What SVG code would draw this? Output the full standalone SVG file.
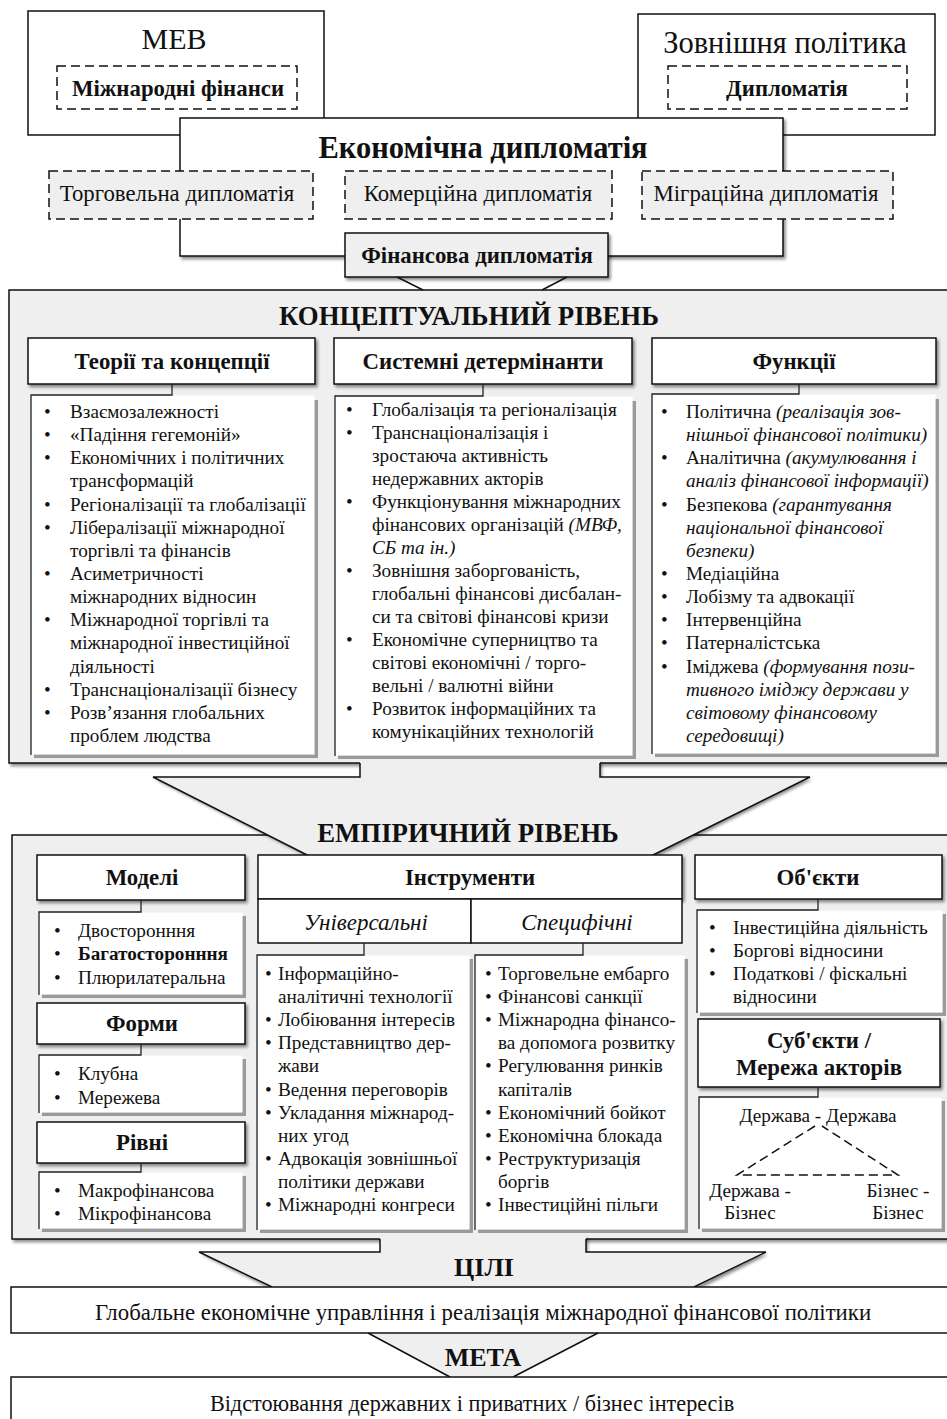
<svg xmlns="http://www.w3.org/2000/svg" width="947" height="1419" viewBox="0 0 947 1419">
<defs>
<filter id="sh" x="-10%" y="-10%" width="125%" height="130%"><feDropShadow dx="2" dy="2.5" stdDeviation="1.6" flood-color="#000" flood-opacity="0.45"/></filter>
<style>
text{font-family:"Liberation Serif","Times New Roman",serif;fill:#111}
.li{font-size:19.2px}
.b{font-weight:bold}
.i{font-style:italic}
.c{text-anchor:middle}
.h{font-size:22.8px;font-weight:bold;text-anchor:middle}
.box{fill:#fff;stroke:#111;stroke-width:1.5}
.gbox{fill:#efefef;stroke:#111;stroke-width:1.5}
.dash{stroke-dasharray:9 5}
.lst{fill:#fff}
.lsh{fill:#9a9a9a}
.conn{fill:none;stroke:#222;stroke-width:1.3}
.arr{fill:#efefef;stroke:none}
.arrs{fill:none;stroke:#111;stroke-width:1.5}
</style>
</defs>
<rect width="947" height="1419" fill="#fff"/>

<!-- Top -->
<g id="mev">
<rect class="box" x="28" y="11" width="296" height="124"/>
<text x="174" y="49" class="c" font-size="30">МЕВ</text>
<rect class="box dash" x="57" y="66" width="240" height="43"/>
<text x="178" y="96" class="c b" font-size="22.8">Міжнародні фінанси</text>
</g>
<g id="foreign">
<rect class="box" x="638" y="14" width="297" height="121"/>
<text x="785" y="53" class="c" font-size="30.5">Зовнішня політика</text>
<rect class="box dash" x="668" y="66" width="239" height="43"/>
<text x="787" y="96" class="c b" font-size="22.8">Дипломатія</text>
</g>
<g id="econ">
<rect class="box" x="180" y="118" width="603" height="138" filter="url(#sh)"/>
<text x="483" y="158" class="c b" font-size="30.5">Економічна дипломатія</text>
</g>
<g id="trade">
<rect class="gbox dash" x="49" y="171" width="264" height="48"/>
<text x="177" y="201" class="c" font-size="22.8">Торговельна дипломатія</text>
</g>
<g id="comm">
<rect class="gbox dash" x="345" y="171" width="267" height="48"/>
<text x="478" y="201" class="c" font-size="22.8">Комерційна дипломатія</text>
</g>
<g id="migr">
<rect class="gbox dash" x="642" y="171" width="251" height="48"/>
<text x="766" y="201" class="c" font-size="22.8">Міграційна дипломатія</text>
</g>

<!-- Conceptual level -->
<g id="conceptual">
<rect class="gbox" x="9" y="290" width="950" height="473" filter="url(#sh)"/>
<text x="469" y="325" class="c b" font-size="26.8">КОНЦЕПТУАЛЬНИЙ РІВЕНЬ</text>
</g>

<g id="fin">
<rect class="gbox" x="345" y="233" width="263" height="44" filter="url(#sh)"/>
<text x="477" y="263" class="c b" font-size="22.8">Фінансова дипломатія</text>
</g>

<!-- Empirical level -->
<g id="empirical">
<rect class="gbox" x="12" y="835" width="950" height="404" filter="url(#sh)"/>
</g>

<g id="connectors">
<line class="arrs" x1="397" y1="277" x2="423" y2="290"/>
<line class="arrs" x1="567" y1="277" x2="542" y2="290"/>
<path class="arr" d="M360,761 V777 H153 L311,857 H649 L810,777 H600 V761 Z" filter="url(#sh)"/>
<path class="arr" d="M361,760 H599 V778 H361 Z"/>
<path class="arrs" d="M360,763 V777 H153 L311,857 M649,857 L810,777 H600 V763"/>
</g>
<text x="468" y="842" class="c b" font-size="26.8">ЕМПІРИЧНИЙ РІВЕНЬ</text>

<!-- Conceptual columns -->
<g id="theories">
<rect class="box" x="28" y="338" width="287" height="46" filter="url(#sh)"/>
<text x="172" y="369" class="h">Теорії та концепції</text>
</g>
<g id="theories-list" class="li">
<rect class="lsh" x="34" y="400" width="284" height="358"/>
<rect class="lst" x="31.6" y="395.6" width="283" height="359"/>
<path class="conn" d="M172,384 V395 H31 V755"/>
<text x="44" y="418">•</text><text x="70" y="418">Взаємозалежності</text>
<text x="44" y="441">•</text><text x="70" y="441">«Падіння гегемоній»</text>
<text x="44" y="464">•</text><text x="70" y="464">Економічних і політичних</text>
<text x="70" y="487">трансформацій</text>
<text x="44" y="511">•</text><text x="70" y="511">Регіоналізації та глобалізації</text>
<text x="44" y="534">•</text><text x="70" y="534">Лібералізації міжнародної</text>
<text x="70" y="557">торгівлі та фінансів</text>
<text x="44" y="580">•</text><text x="70" y="580">Асиметричності</text>
<text x="70" y="603">міжнародних відносин</text>
<text x="44" y="626">•</text><text x="70" y="626">Міжнародної торгівлі та</text>
<text x="70" y="649">міжнародної інвестиційної</text>
<text x="70" y="673">діяльності</text>
<text x="44" y="696">•</text><text x="70" y="696">Транснаціоналізації бізнесу</text>
<text x="44" y="719">•</text><text x="70" y="719">Розв’язання глобальних</text>
<text x="70" y="742">проблем людства</text>
</g>

<g id="determinants">
<rect class="box" x="334" y="338" width="298" height="46" filter="url(#sh)"/>
<text x="483" y="369" class="h">Системні детермінанти</text>
</g>
<g id="determinants-list" class="li">
<rect class="lsh" x="338" y="401" width="298" height="358"/>
<rect class="lst" x="335.6" y="396.6" width="297" height="359"/>
<path class="conn" d="M483,384 V396 H335 V756"/>
<text x="346" y="416">•</text><text x="372" y="416">Глобалізація та регіоналізація</text>
<text x="346" y="439">•</text><text x="372" y="439">Транснаціоналізація і</text>
<text x="372" y="462">зростаюча активність</text>
<text x="372" y="485">недержавних акторів</text>
<text x="346" y="508">•</text><text x="372" y="508">Функціонування міжнародних</text>
<text x="372" y="531">фінансових організацій <tspan class="i">(МВФ,</tspan></text>
<text x="372" y="554" class="i">СБ та ін.)</text>
<text x="346" y="577">•</text><text x="372" y="577">Зовнішня заборгованість,</text>
<text x="372" y="600">глобальні фінансові дисбалан-</text>
<text x="372" y="623">си та світові фінансові кризи</text>
<text x="346" y="646">•</text><text x="372" y="646">Економічне суперництво та</text>
<text x="372" y="669">світові економічні / торго-</text>
<text x="372" y="692">вельні / валютні війни</text>
<text x="346" y="715">•</text><text x="372" y="715">Розвиток інформаційних та</text>
<text x="372" y="738">комунікаційних технологій</text>
</g>

<g id="functions">
<rect class="box" x="652" y="338" width="284" height="46" filter="url(#sh)"/>
<text x="794" y="369" class="h">Функції</text>
</g>
<g id="functions-list" class="li">
<rect class="lsh" x="655" y="399" width="284" height="358"/>
<rect class="lst" x="652.6" y="394.6" width="283" height="359"/>
<path class="conn" d="M799,384 V394 H652 V754"/>
<text x="661" y="418">•</text><text x="686" y="418">Політична <tspan class="i">(реалізація зов-</tspan></text>
<text x="686" y="441" class="i">нішньої фінансової політики)</text>
<text x="661" y="464">•</text><text x="686" y="464">Аналітична <tspan class="i">(акумулювання і</tspan></text>
<text x="686" y="487" class="i">аналіз фінансової інформації)</text>
<text x="661" y="511">•</text><text x="686" y="511">Безпекова <tspan class="i">(гарантування</tspan></text>
<text x="686" y="534" class="i">національної фінансової</text>
<text x="686" y="557" class="i">безпеки)</text>
<text x="661" y="580">•</text><text x="686" y="580">Медіаційна</text>
<text x="661" y="603">•</text><text x="686" y="603">Лобізму та адвокації</text>
<text x="661" y="626">•</text><text x="686" y="626">Інтервенційна</text>
<text x="661" y="649">•</text><text x="686" y="649">Патерналістська</text>
<text x="661" y="673">•</text><text x="686" y="673">Іміджева <tspan class="i">(формування пози-</tspan></text>
<text x="686" y="696" class="i">тивного іміджу держави у</text>
<text x="686" y="719" class="i">світовому фінансовому</text>
<text x="686" y="742" class="i">середовищі)</text>
</g>

<!-- Empirical: models, forms, levels -->
<g id="models">
<rect class="box" x="37" y="855" width="208" height="45" filter="url(#sh)"/>
<text x="142" y="885" class="h">Моделі</text>
</g>
<g id="models-list" class="li">
<rect class="lsh" x="42" y="916" width="204" height="82"/>
<rect class="lst" x="39.6" y="912.6" width="203" height="82"/>
<path class="conn" d="M141,900 V912 H39 V995"/>
<text x="54" y="937">•</text><text x="78" y="937">Двосторонння</text>
<text x="54" y="960">•</text><text x="78" y="960" class="b">Багатосторонння</text>
<text x="54" y="984">•</text><text x="78" y="984">Плюрилатеральна</text>
</g>
<g id="forms">
<rect class="box" x="37" y="1003" width="208" height="41" filter="url(#sh)"/>
<text x="142" y="1031" class="h">Форми</text>
</g>
<g id="forms-list" class="li">
<rect class="lsh" x="42" y="1059" width="204" height="57"/>
<rect class="lst" x="39.6" y="1055.6" width="203" height="57"/>
<path class="conn" d="M141,1044 V1055 H39 V1113"/>
<text x="54" y="1080">•</text><text x="78" y="1080">Клубна</text>
<text x="54" y="1104">•</text><text x="78" y="1104">Мережева</text>
</g>
<g id="levels">
<rect class="box" x="37" y="1122" width="208" height="41" filter="url(#sh)"/>
<text x="142" y="1150" class="h">Рівні</text>
</g>
<g id="levels-list" class="li">
<rect class="lsh" x="42" y="1176" width="204" height="56"/>
<rect class="lst" x="39.6" y="1172.6" width="203" height="56"/>
<path class="conn" d="M141,1163 V1172 H39 V1229"/>
<text x="54" y="1197">•</text><text x="78" y="1197">Макрофінансова</text>
<text x="54" y="1220">•</text><text x="78" y="1220">Мікрофінансова</text>
</g>

<!-- Instruments -->
<g id="instruments">
<rect class="box" x="258" y="855" width="424" height="44" filter="url(#sh)"/>
<text x="470" y="885" class="h">Інструменти</text>
<rect class="box" x="258" y="899" width="213" height="44"/>
<rect class="box" x="471" y="899" width="211" height="44"/>
<text x="366" y="930" class="c i" font-size="23">Універсальні</text>
<text x="577" y="930" class="c i" font-size="23">Специфічні</text>
</g>
<g id="universal-list" class="li">
<rect class="lsh" x="260" y="959" width="213" height="274"/>
<rect class="lst" x="257.6" y="955.6" width="212" height="274"/>
<path class="conn" d="M364,943 V955 H257 V1230"/>
<text x="265" y="980">•</text><text x="278" y="980">Інформаційно-</text>
<text x="278" y="1003">аналітичні технології</text>
<text x="265" y="1026">•</text><text x="278" y="1026">Лобіювання інтересів</text>
<text x="265" y="1049">•</text><text x="278" y="1049">Представництво дер-</text>
<text x="278" y="1072">жави</text>
<text x="265" y="1096">•</text><text x="278" y="1096">Ведення переговорів</text>
<text x="265" y="1119">•</text><text x="278" y="1119">Укладання міжнарод-</text>
<text x="278" y="1142">них угод</text>
<text x="265" y="1165">•</text><text x="278" y="1165">Адвокація зовнішньої</text>
<text x="278" y="1188">політики держави</text>
<text x="265" y="1211">•</text><text x="278" y="1211">Міжнародні конгреси</text>
</g>
<g id="specific-list" class="li">
<rect class="lsh" x="478" y="959" width="210" height="274"/>
<rect class="lst" x="475.6" y="955.6" width="209" height="274"/>
<path class="conn" d="M583,943 V955 H475 V1230"/>
<text x="485" y="980">•</text><text x="498" y="980">Торговельне ембарго</text>
<text x="485" y="1003">•</text><text x="498" y="1003">Фінансові санкції</text>
<text x="485" y="1026">•</text><text x="498" y="1026">Міжнародна фінансо-</text>
<text x="498" y="1049">ва допомога розвитку</text>
<text x="485" y="1072">•</text><text x="498" y="1072">Регулювання ринків</text>
<text x="498" y="1096">капіталів</text>
<text x="485" y="1119">•</text><text x="498" y="1119">Економічний бойкот</text>
<text x="485" y="1142">•</text><text x="498" y="1142">Економічна блокада</text>
<text x="485" y="1165">•</text><text x="498" y="1165">Реструктуризація</text>
<text x="498" y="1188">боргів</text>
<text x="485" y="1211">•</text><text x="498" y="1211">Інвестиційні пільги</text>
</g>

<!-- Objects / Subjects -->
<g id="objects">
<rect class="box" x="695" y="855" width="247" height="44" filter="url(#sh)"/>
<text x="818" y="885" class="h">Об'єкти</text>
</g>
<g id="objects-list" class="li">
<rect class="lsh" x="700" y="914" width="246" height="102"/>
<rect class="lst" x="697.6" y="910.6" width="245" height="102"/>
<path class="conn" d="M818,899 V910 H697 V1013"/>
<text x="709" y="934">•</text><text x="733" y="934">Інвестиційна діяльність</text>
<text x="709" y="957">•</text><text x="733" y="957">Боргові відносини</text>
<text x="709" y="980">•</text><text x="733" y="980">Податкові / фіскальні</text>
<text x="733" y="1003">відносини</text>
</g>
<g id="subjects">
<rect class="box" x="698" y="1019" width="242" height="68" filter="url(#sh)"/>
<text x="819" y="1048" class="h" font-size="24">Суб'єкти /</text>
<text x="819" y="1075" class="h" font-size="24">Мережа акторів</text>
</g>
<g id="subjects-list" class="li">
<rect class="lsh" x="702" y="1101" width="243" height="131"/>
<rect class="lst" x="699.6" y="1097.6" width="242" height="131"/>
<path class="conn" d="M818,1087 V1097 H699 V1229"/>
<text x="818" y="1122" class="c">Держава - Держава</text>
<path d="M815,1126 L737,1175 H898 L822,1126" fill="none" stroke="#111" stroke-width="1.5" stroke-dasharray="9 5"/>
<text x="750" y="1197" class="c">Держава -</text>
<text x="750" y="1219" class="c">Бізнес</text>
<text x="898" y="1197" class="c">Бізнес -</text>
<text x="898" y="1219" class="c">Бізнес</text>
</g>

<!-- Goals -->
<g id="goals-arrow">
<path class="arr" d="M380,1236 V1252 H199 L272,1288 H694 L766,1252 H586 V1236 Z" filter="url(#sh)"/>
<path class="arr" d="M381,1234 H585 V1253 H381 Z"/>
<path class="arrs" d="M380,1239 V1252 H199 L272,1287 M694,1287 L766,1252 H586 V1239"/>
<text x="484" y="1276" class="c b" font-size="26">ЦІЛІ</text>
</g>
<g id="goals">
<rect class="box" x="11" y="1287" width="950" height="46"/>
<text x="483" y="1320" class="c" font-size="22.8">Глобальне економічне управління і реалізація міжнародної фінансової політики</text>
</g>
<g id="aim-arrow">
<path class="arr" d="M368,1334 L450,1378 H513 L598,1334 Z"/>
<path class="arrs" d="M368,1333 L450,1377 M513,1377 L598,1333"/>
<text x="483" y="1366" class="c b" font-size="26">МЕТА</text>
</g>
<g id="aim">
<rect class="box" x="11" y="1377" width="950" height="60"/>
<text x="472" y="1411" class="c" font-size="22.2">Відстоювання державних і приватних / бізнес інтересів</text>
</g>
</svg>
